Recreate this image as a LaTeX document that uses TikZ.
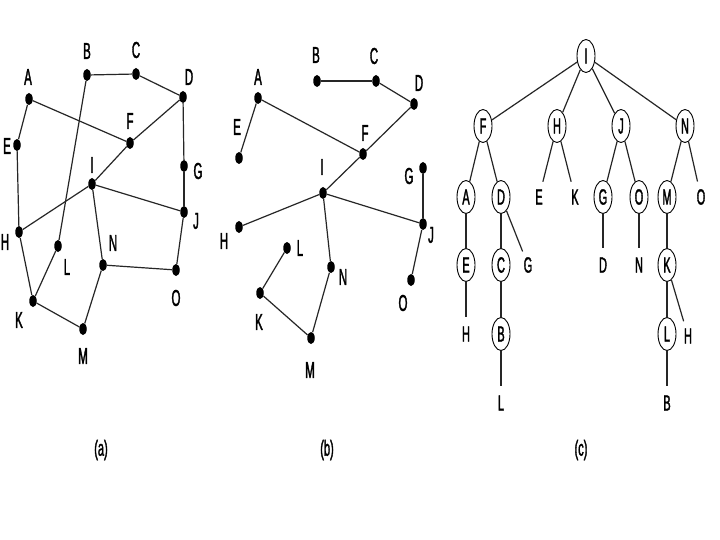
\documentclass[tikz,border=0pt]{standalone}
\usepackage{fontspec}
\newfontfamily\labfont{Liberation Sans}[FakeStretch=0.5,FakeBold=1.5]
\usetikzlibrary{shapes.geometric}
\begin{document}
\begin{tikzpicture}[x=1pt,y=-1pt,
  vdot/.style={ellipse,fill=black,minimum width=7.5pt,minimum height=12pt,inner sep=0pt},
  lab/.style={font=\fontsize{23}{26}\labfont,inner sep=0pt},
  captxt/.style={font=\fontsize{22}{26}\labfont,inner sep=0pt},
  tnode/.style={ellipse,draw,line width=0.9pt,minimum width=18pt,minimum height=33pt,inner sep=0pt,font=\fontsize{22}{26}\labfont},
  tleaf/.style={ellipse,minimum width=18pt,minimum height=33pt,inner sep=0pt,font=\fontsize{22}{26}\labfont},
  edge/.style={line width=1.2pt,draw=black!85}]
\useasboundingbox[fill=white] (0,0) rectangle (720,540);

% ---------- (a) ----------
\node[vdot] (aA) at (29,99) {};
\node[vdot] (aB) at (87,75) {};
\node[vdot] (aC) at (136,74) {};
\node[vdot] (aD) at (183,97) {};
\node[vdot] (aE) at (17,145) {};
\node[vdot] (aF) at (130,143) {};
\node[vdot] (aG) at (184,166) {};
\node[vdot] (aH) at (19,232) {};
\node[vdot] (aI) at (92,184) {};
\node[vdot] (aJ) at (184,212) {};
\node[vdot] (aK) at (33,301) {};
\node[vdot] (aL) at (58,246) {};
\node[vdot] (aM) at (83,329) {};
\node[vdot] (aN) at (103,265) {};
\node[vdot] (aO) at (176,270) {};
\node[lab] (laA) at (28,77) {A};
\node[lab] (laB) at (87,51) {B};
\node[lab] (laC) at (136,50) {C};
\node[lab] (laD) at (189,77) {D};
\node[lab] (laE) at (7,146) {E};
\node[lab] (laF) at (130,121) {F};
\node[lab] (laG) at (198,171) {G};
\node[lab] (laH) at (5,242) {H};
\node[lab] (laI) at (92,165) {I};
\node[lab] (laJ) at (196,221) {J};
\node[lab] (laK) at (19,320) {K};
\node[lab] (laL) at (67,267) {L};
\node[lab] (laM) at (83,356) {M};
\node[lab] (laN) at (113,243) {N};
\node[lab] (laO) at (176,298) {O};
\draw[edge] (aB) -- (aC);
\draw[edge] (aC) -- (aD);
\draw[edge] (aD) -- (aF);
\draw[edge] (aD) -- (aG);
\draw[edge] (aG) -- (aJ);
\draw[edge] (aA) -- (aE);
\draw[edge] (aA) -- (aF);
\draw[edge] (aE) -- (aH);
\draw[edge] (aF) -- (aI);
\draw[edge] (aI) -- (aH);
\draw[edge] (aI) -- (aJ);
\draw[edge] (aI) -- (aN);
\draw[edge] (aJ) -- (aO);
\draw[edge] (aN) -- (aO);
\draw[edge] (aN) -- (aM);
\draw[edge] (aH) -- (aK);
\draw[edge] (aK) -- (aL);
\draw[edge] (aL) -- (aB);
\draw[edge] (aK) -- (aM);

% ---------- (b) ----------
\node[vdot] (bA) at (258,98) {};
\node[vdot] (bB) at (317,81) {};
\node[vdot] (bC) at (376,81) {};
\node[vdot] (bD) at (414,104) {};
\node[vdot] (bE) at (239,158) {};
\node[vdot] (bF) at (363,154) {};
\node[vdot] (bG) at (423,168) {};
\node[vdot] (bH) at (239,227) {};
\node[vdot] (bI) at (323,193) {};
\node[vdot] (bJ) at (423,224) {};
\node[vdot] (bK) at (260,293) {};
\node[vdot] (bL) at (287,248) {};
\node[vdot] (bM) at (311,338) {};
\node[vdot] (bN) at (331,267) {};
\node[vdot] (bO) at (411,280) {};
\node[lab] (lbA) at (258,77) {A};
\node[lab] (lbB) at (316,55) {B};
\node[lab] (lbC) at (374,56) {C};
\node[lab] (lbD) at (419,83) {D};
\node[lab] (lbE) at (237,127) {E};
\node[lab] (lbF) at (365,133) {F};
\node[lab] (lbG) at (409,176) {G};
\node[lab] (lbH) at (224,241) {H};
\node[lab] (lbI) at (322,167) {I};
\node[lab] (lbJ) at (431,235) {J};
\node[lab] (lbK) at (259,322) {K};
\node[lab] (lbL) at (300,248) {L};
\node[lab] (lbM) at (310,370) {M};
\node[lab] (lbN) at (343,277) {N};
\node[lab] (lbO) at (403,303) {O};
\draw[edge] (bB) -- (bC);
\draw[edge] (bC) -- (bD);
\draw[edge] (bD) -- (bF);
\draw[edge] (bA) -- (bF);
\draw[edge] (bA) -- (bE);
\draw[edge] (bF) -- (bI);
\draw[edge] (bI) -- (bH);
\draw[edge] (bI) -- (bJ);
\draw[edge] (bI) -- (bN);
\draw[edge] (bN) -- (bM);
\draw[edge] (bM) -- (bK);
\draw[edge] (bK) -- (bL);
\draw[edge] (bG) -- (bJ);
\draw[edge] (bJ) -- (bO);

% ---------- (c) ----------
\node[tnode] (cI) at (586,56) {I};
\node[tnode] (cF) at (483,126) {F};
\node[tnode] (cH) at (557,126) {H};
\node[tnode] (cJ) at (621,126) {J};
\node[tnode] (cN) at (685,126) {N};
\node[tnode] (cA) at (466,197) {A};
\node[tnode] (cD) at (501,197) {D};
\node[tleaf] (cE1) at (539,197) {E};
\node[tleaf] (cK1) at (575,197) {K};
\node[tnode] (cG) at (603,197) {G};
\node[tnode] (cO) at (639,197) {O};
\node[tnode] (cM) at (667,197) {M};
\node[tleaf] (cO1) at (701,197) {O};
\node[tnode] (cE) at (466,265) {E};
\node[tnode] (cC) at (501,265) {C};
\node[tleaf] (cG1) at (528,265) {G};
\node[tleaf] (cD1) at (603,265) {D};
\node[tleaf] (cN1) at (639,265) {N};
\node[tnode] (cK) at (667,265) {K};
\node[tleaf] (cH1) at (466,334) {H};
\node[tnode] (cB) at (501,334) {B};
\node[tnode] (cL) at (667,334) {L};
\node[tleaf] (cH2) at (688,336) {H};
\node[tleaf] (cL1) at (501,403) {L};
\node[tleaf] (cB1) at (667,403) {B};
\draw[edge] (cI) -- (cF);
\draw[edge] (cI) -- (cH);
\draw[edge] (cI) -- (cJ);
\draw[edge] (cI) -- (cN);
\draw[edge] (cF) -- (cA);
\draw[edge] (cF) -- (cD);
\draw[edge] (cH) -- (cE1);
\draw[edge] (cH) -- (cK1);
\draw[edge] (cJ) -- (cG);
\draw[edge] (cJ) -- (cO);
\draw[edge] (cN) -- (cM);
\draw[edge] (cN) -- (cO1);
\draw[edge] (cA) -- (cE);
\draw[edge] (cD) -- (cC);
\draw[edge] (cD) -- (cG1);
\draw[edge] (cG) -- (cD1);
\draw[edge] (cO) -- (cN1);
\draw[edge] (cM) -- (cK);
\draw[edge] (cE) -- (cH1);
\draw[edge] (cC) -- (cB);
\draw[edge] (cK) -- (cL);
\draw[edge] (cK) -- (cH2);
\draw[edge] (cB) -- (cL1);
\draw[edge] (cL) -- (cB1);

% ---------- captions ----------
\node[captxt] (capa) at (101,450) {(a)};
\node[captxt] (capb) at (327,450) {(b)};
\node[captxt] (capc) at (581,450) {(c)};
\end{tikzpicture}
\end{document}
